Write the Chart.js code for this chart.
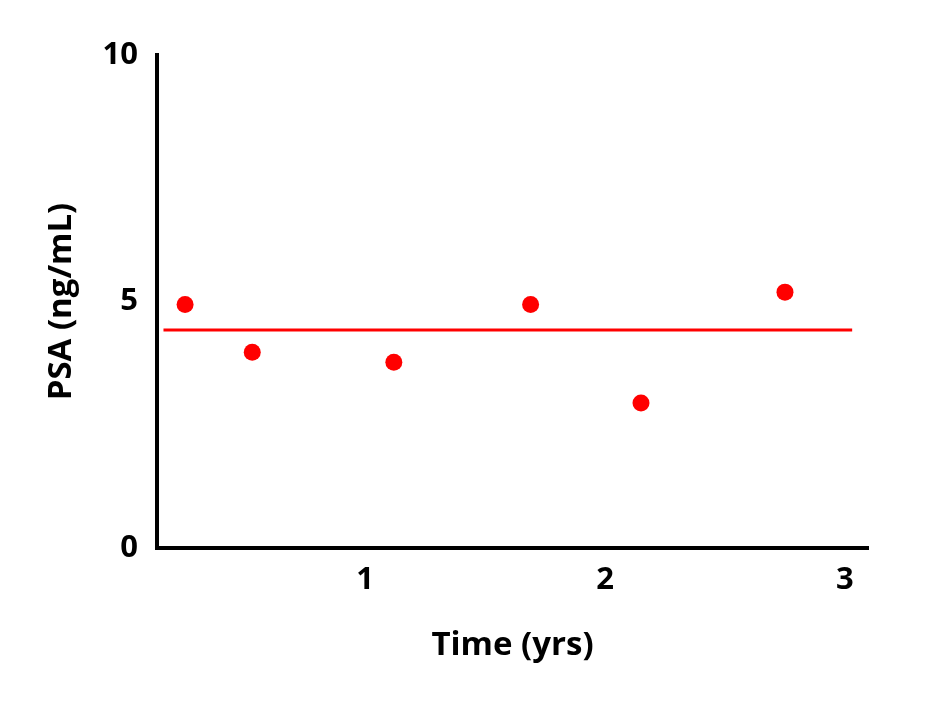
<!DOCTYPE html>
<html>
<head>
<meta charset="utf-8">
<script src="https://cdn.jsdelivr.net/npm/chart.js@4"></script>
<style>
  html, body { margin: 0; padding: 0; background: #fff; }
  #wrap { width: 936px; height: 719px; }
</style>
</head>
<body>
<div id="wrap"><canvas id="chart"></canvas></div>
<script>
// valores
const tiempos = [0.25, 0.53, 1.12, 1.69, 2.15, 2.75];
const psa = [4.94, 3.97, 3.77, 4.94, 2.94, 5.19];
const lineaX = [0.16, 3.03];
const lineaY = [4.42, 4.42];
const ticksX = [1, 2, 3];
const ticksY = [0, 5, 10];

const rojo = '#ff0000';
const fuente = "'Open Sans', 'Noto Sans', sans-serif";

const puntos = tiempos.map((t, i) => ({ x: t, y: psa[i] }));
const linea = lineaX.map((t, i) => ({ x: t, y: lineaY[i] }));

const ctx = document.getElementById('chart').getContext('2d');
const myChart = new Chart(ctx, {
    type: 'scatter',
    data: {
        datasets: [
            {
                label: 'PSA',
                data: puntos,
                backgroundColor: rojo,
                borderColor: rojo,
                pointRadius: 8.5,
                pointBorderWidth: 0
            },
            {
                label: 'Media',
                type: 'line',
                data: linea,
                borderColor: rojo,
                borderWidth: 3,
                pointRadius: 0,
                fill: false
            }
        ]
    },
    options: {
        responsive: true,
        maintainAspectRatio: false,
        animation: false,
        layout: { padding: { left: 42, top: 55, right: 68, bottom: 54 } },
        plugins: { legend: { display: false }, tooltip: { enabled: false } },
        scales: {
            x: {
                type: 'linear',
                min: 0.133,
                max: 3.096,
                afterBuildTicks: s => { s.ticks = ticksX.map(v => ({ value: v })); },
                afterFit: s => { s.height = 117; },
                grid: { display: false, drawTicks: false },
                border: { display: true, color: '#000', width: 4 },
                ticks: {
                    color: '#000',
                    padding: 14,
                    maxRotation: 0,
                    font: { family: fuente, size: 31, weight: 'bold' }
                },
                title: {
                    display: true,
                    text: 'Time (yrs)',
                    color: '#000',
                    padding: 0,
                    font: { family: fuente, size: 33, weight: 'bold', lineHeight: 1.2 }
                }
            },
            y: {
                min: 0,
                max: 10,
                afterBuildTicks: s => { s.ticks = ticksY.map(v => ({ value: v })); },
                afterFit: s => { s.width = 115; },
                grid: { display: false, drawTicks: false },
                border: { display: true, color: '#000', width: 4 },
                ticks: {
                    color: '#000',
                    padding: 19,
                    font: { family: fuente, size: 31, weight: 'bold' }
                },
                title: {
                    display: true,
                    text: 'PSA (ng/mL)',
                    color: '#000',
                    padding: 0,
                    font: { family: fuente, size: 33, weight: 'bold', lineHeight: 1.2 }
                }
            }
        }
    }
});
</script>
</body>
</html>
